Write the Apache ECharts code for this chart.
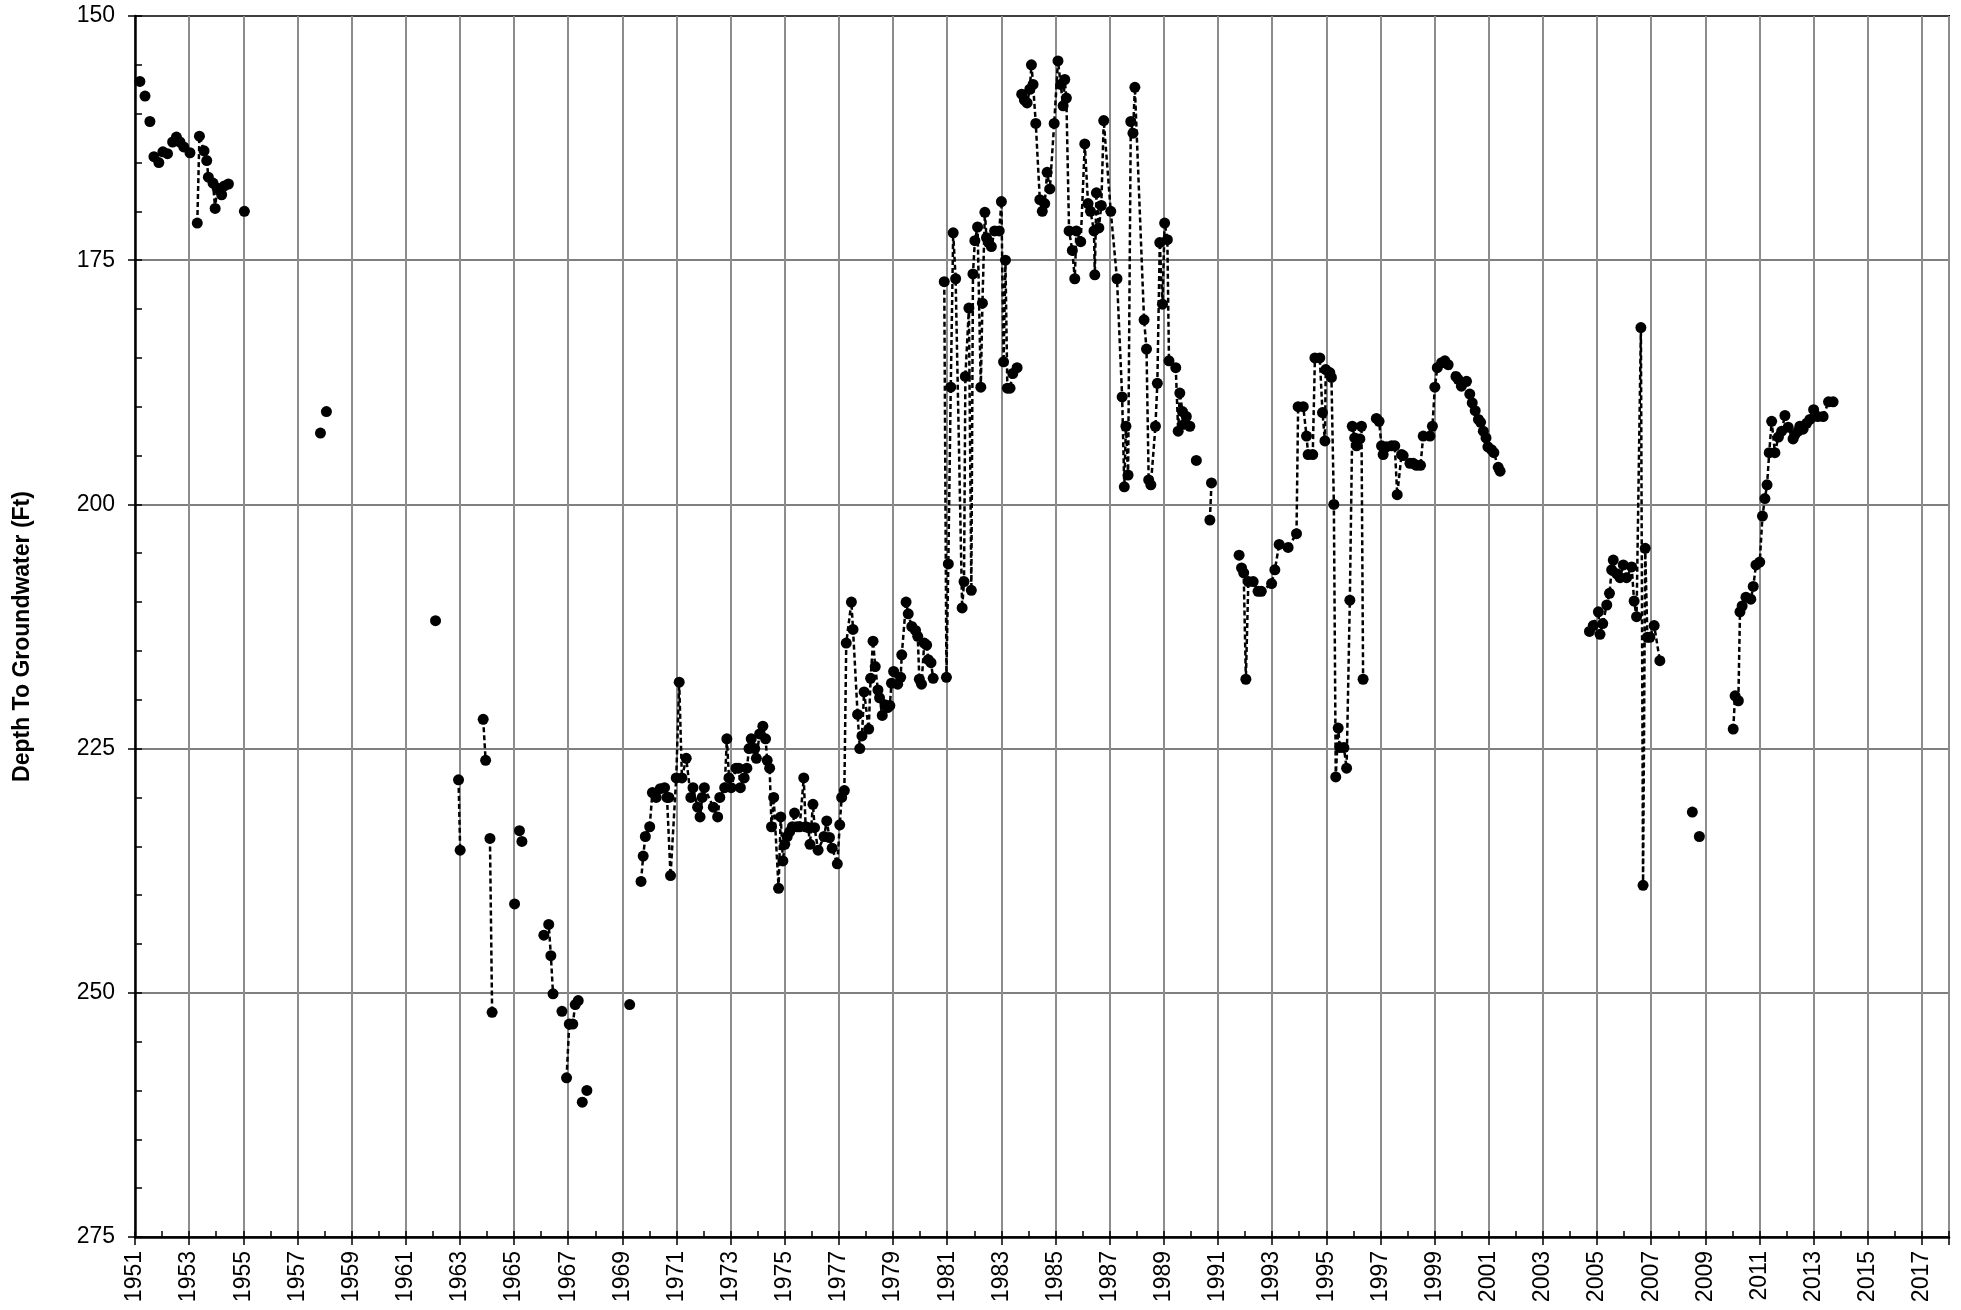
<!DOCTYPE html>
<html>
<head>
<meta charset="utf-8">
<title>Depth To Groundwater</title>
<script src="https://cdn.jsdelivr.net/npm/echarts@6/dist/echarts.min.js"></script>
<style>
  html, body { margin: 0; padding: 0; background: #fff; }
  #main { width: 1961px; height: 1310px; }
</style>
</head>
<body>
<div id="main"></div>
<script>
// each run = measurements joined by one dashed line: [decimal year, depth ft]
const runs1950s = [
  [[1951.18, 156.7]], [[1951.37, 158.2]], [[1951.55, 160.8]], [[1951.70, 164.4]],
  [[1951.88, 165.0]], [[1952.03, 163.9]], [[1952.20, 164.1]], [[1952.39, 162.9]],
  [[1952.53, 162.4]], [[1952.66, 162.9]], [[1952.80, 163.4]], [[1953.03, 164.0]],
  [[1953.30, 171.2], [1953.38, 162.3], [1953.55, 163.8], [1953.65, 164.8], [1953.71, 166.5],
   [1953.88, 167.1], [1953.96, 169.7], [1954.03, 167.6], [1954.20, 168.3], [1954.30, 167.4],
   [1954.45, 167.2]],
  [[1955.04, 170.0]],
  [[1957.85, 192.7]], [[1958.07, 190.5]]
];

const runs1960s = [
  [[1962.10, 211.9]],
  [[1962.95, 228.2], [1963.01, 235.4]],
  [[1963.86, 222.0], [1963.95, 226.2]],
  [[1964.11, 234.2], [1964.19, 252.0]],
  [[1965.02, 240.9]],
  [[1965.20, 233.4], [1965.29, 234.5]],
  [[1966.10, 244.1], [1966.28, 243.0], [1966.36, 246.2], [1966.44, 250.1]],
  [[1966.77, 251.9]],
  [[1966.94, 258.7], [1967.04, 253.2], [1967.17, 253.2], [1967.26, 251.2], [1967.37, 250.8]],
  [[1967.52, 261.2], [1967.69, 260.0]],
  [[1969.27, 251.2]]
];

const runs1970s = [
  [[1969.69, 238.6], [1969.77, 236.0], [1969.85, 234.0], [1970.01, 233.0], [1970.11, 229.5],
   [1970.25, 230.0], [1970.40, 229.1], [1970.56, 229.0], [1970.65, 230.0], [1970.72, 230.0],
   [1970.78, 238.0], [1970.99, 228.0], [1971.10, 218.2], [1971.20, 228.0], [1971.36, 226.0],
   [1971.53, 230.0], [1971.61, 229.0], [1971.78, 231.0], [1971.87, 232.0], [1971.95, 230.0],
   [1972.03, 229.0], [1972.36, 231.0], [1972.52, 232.0], [1972.60, 230.0], [1972.78, 229.0],
   [1972.86, 224.0], [1972.94, 228.0], [1973.02, 229.0], [1973.20, 227.0], [1973.30, 227.0],
   [1973.36, 229.0], [1973.50, 228.0], [1973.60, 227.0], [1973.68, 225.0], [1973.76, 224.0],
   [1973.89, 225.0], [1973.95, 226.0], [1974.07, 223.5], [1974.19, 222.7], [1974.29, 224.0],
   [1974.35, 226.2], [1974.44, 227.0], [1974.51, 233.0], [1974.59, 230.0], [1974.77, 239.3],
   [1974.85, 232.0], [1974.93, 236.5], [1975.00, 234.8], [1975.09, 234.0], [1975.18, 233.5],
   [1975.28, 233.0], [1975.36, 231.6], [1975.45, 233.0], [1975.55, 233.0], [1975.70, 228.0],
   [1975.77, 233.0], [1975.87, 233.1], [1975.93, 234.8], [1976.04, 230.7], [1976.10, 233.1],
   [1976.23, 235.4], [1976.45, 234.0], [1976.55, 232.4], [1976.65, 234.1], [1976.75, 235.2],
   [1976.94, 236.8], [1977.03, 232.8], [1977.10, 230.0], [1977.20, 229.3], [1977.27, 214.2],
   [1977.46, 210.0], [1977.52, 212.8], [1977.69, 221.5], [1977.77, 225.0], [1977.85, 223.7],
   [1977.93, 219.2], [1978.10, 223.0], [1978.17, 217.8], [1978.26, 214.0], [1978.34, 216.6],
   [1978.44, 219.0], [1978.50, 219.8], [1978.60, 221.6], [1978.70, 220.5], [1978.80, 220.8],
   [1978.88, 220.6], [1978.94, 218.3], [1979.02, 217.1], [1979.17, 218.4], [1979.28, 217.7],
   [1979.32, 215.4], [1979.48, 210.0], [1979.56, 211.2], [1979.69, 212.5], [1979.83, 212.9],
   [1979.91, 213.5], [1979.97, 217.9], [1980.05, 218.4], [1980.15, 214.2], [1980.24, 214.4],
   [1980.30, 215.9], [1980.40, 216.2], [1980.48, 217.8]]
];

const runs1980s = [
  [[1980.89, 177.2], [1980.97, 217.7], [1981.04, 206.1], [1981.13, 188.0], [1981.22, 172.2],
   [1981.31, 176.9], [1981.55, 210.6], [1981.62, 207.9], [1981.67, 186.9], [1981.80, 179.9],
   [1981.89, 208.8], [1981.95, 176.4], [1982.02, 173.0], [1982.12, 171.6], [1982.24, 188.0],
   [1982.30, 179.4], [1982.39, 170.1], [1982.45, 172.7], [1982.53, 173.2], [1982.63, 173.6],
   [1982.75, 172.0], [1982.92, 172.0], [1983.00, 169.0], [1983.08, 185.4], [1983.15, 175.0],
   [1983.22, 188.1], [1983.32, 188.1], [1983.42, 186.6], [1983.58, 186.0]],
  [[1983.75, 158.0], [1983.85, 158.6], [1983.95, 158.9], [1984.05, 157.5], [1984.11, 155.0],
   [1984.17, 157.0], [1984.27, 161.0], [1984.42, 168.8], [1984.51, 170.0], [1984.60, 169.2],
   [1984.69, 166.0], [1984.79, 167.7], [1984.95, 161.0], [1985.09, 154.6], [1985.19, 157.0],
   [1985.28, 159.2], [1985.34, 156.5], [1985.40, 158.4], [1985.50, 172.0], [1985.62, 174.0],
   [1985.71, 176.9], [1985.77, 172.0], [1985.93, 173.1], [1986.08, 163.1], [1986.20, 169.2],
   [1986.29, 170.0], [1986.42, 172.0], [1986.45, 176.5], [1986.51, 168.1], [1986.60, 171.7],
   [1986.69, 169.4], [1986.78, 160.7], [1987.04, 170.0], [1987.27, 176.9], [1987.46, 189.0],
   [1987.54, 198.2], [1987.60, 192.0], [1987.68, 197.0], [1987.78, 160.8], [1987.86, 162.0],
   [1987.93, 157.3], [1988.27, 181.1], [1988.36, 184.1], [1988.44, 197.5], [1988.52, 198.0],
   [1988.69, 192.0], [1988.76, 187.6], [1988.85, 173.2], [1988.95, 179.5], [1989.03, 171.2],
   [1989.13, 172.9], [1989.19, 185.3], [1989.44, 186.0], [1989.53, 192.5], [1989.59, 188.6],
   [1989.69, 190.5], [1989.75, 191.8], [1989.83, 191.0], [1989.96, 192.0]]
];

const runs1990s = [
  [[1990.20, 195.5]],
  [[1990.70, 201.6], [1990.76, 197.8]],
  [[1991.78, 205.2], [1991.87, 206.5], [1991.95, 207.0], [1992.03, 217.9], [1992.12, 207.9],
   [1992.30, 207.9], [1992.48, 208.9], [1992.60, 208.9], [1992.98, 208.1], [1993.10, 206.7],
   [1993.26, 204.1], [1993.59, 204.4], [1993.90, 203.0], [1993.96, 190.0], [1994.15, 190.0],
   [1994.27, 193.0], [1994.33, 194.9], [1994.50, 194.9], [1994.58, 185.0], [1994.76, 185.0],
   [1994.86, 190.6], [1994.95, 193.5], [1994.98, 186.2], [1995.13, 186.5], [1995.19, 187.0],
   [1995.28, 200.0], [1995.35, 227.9], [1995.44, 222.9], [1995.50, 224.9], [1995.65, 224.9],
   [1995.75, 227.0], [1995.87, 209.8], [1995.96, 192.0], [1996.05, 193.2], [1996.12, 194.0],
   [1996.24, 193.3], [1996.30, 192.0], [1996.36, 217.9]],
  [[1996.85, 191.2], [1996.95, 191.5], [1997.04, 194.0], [1997.10, 194.9], [1997.22, 194.1],
   [1997.41, 194.0], [1997.53, 194.0], [1997.62, 199.0], [1997.78, 194.9], [1997.84, 195.0],
   [1998.09, 195.8], [1998.21, 195.8], [1998.33, 196.0], [1998.48, 196.0], [1998.58, 193.0],
   [1998.83, 193.0], [1998.92, 192.0], [1999.01, 188.0], [1999.10, 186.0], [1999.26, 185.5],
   [1999.38, 185.3], [1999.50, 185.7], [1999.79, 186.9], [1999.87, 187.2], [1999.99, 187.9],
   [2000.18, 187.4], [2000.30, 188.7], [2000.39, 189.6], [2000.50, 190.4], [2000.62, 191.3],
   [2000.70, 191.6], [2000.80, 192.5], [2000.90, 193.2], [2000.97, 194.1], [2001.10, 194.4],
   [2001.19, 194.7], [2001.35, 196.2], [2001.42, 196.6]]
];

const runs2000s = [
  [[2004.72, 213.0], [2004.86, 212.4], [2005.05, 211.0], [2005.11, 213.3], [2005.21, 212.2],
   [2005.36, 210.3], [2005.46, 209.1], [2005.54, 206.7], [2005.60, 205.7], [2005.73, 207.1],
   [2005.85, 207.5], [2005.97, 206.2], [2006.09, 207.5], [2006.28, 206.4], [2006.37, 209.9],
   [2006.46, 211.5], [2006.62, 181.9], [2006.70, 239.0], [2006.78, 204.5], [2006.86, 213.6],
   [2006.95, 213.6], [2007.11, 212.4], [2007.32, 216.0]],
  [[2008.52, 231.5]],
  [[2008.78, 234.0]]
];

const runs2010s = [
  [[2010.03, 223.0], [2010.10, 219.6], [2010.22, 220.1], [2010.28, 211.0], [2010.36, 210.4],
   [2010.50, 209.5], [2010.68, 209.7], [2010.77, 208.4], [2010.87, 206.2], [2011.01, 205.9],
   [2011.11, 201.2], [2011.20, 199.4], [2011.28, 198.0], [2011.36, 194.7], [2011.45, 191.5],
   [2011.57, 194.7], [2011.70, 193.1], [2011.82, 192.5], [2011.94, 190.9], [2012.06, 192.1],
   [2012.24, 193.3], [2012.30, 192.9], [2012.43, 192.5], [2012.49, 192.0], [2012.61, 192.3],
   [2012.74, 191.7], [2012.86, 191.3], [2013.00, 190.3], [2013.15, 191.0], [2013.35, 191.0],
   [2013.55, 189.5], [2013.72, 189.5]]
];

const xStart = 1951;   // first tick label
const xEnd = 2018;     // right edge of plot
const yMin = 150;
const yMax = 275;

const font = 'Arial, "Liberation Sans", sans-serif';

// flatten runs, a null point breaks the dashed line between runs
function buildData() {
  const all = [].concat(runs1950s, runs1960s, runs1970s, runs1980s, runs1990s, runs2000s, runs2010s);
  const out = [];
  all.forEach((run, i) => {
    if (i > 0) out.push([run[0][0] - xStart, null]);
    run.forEach(p => out.push([p[0] - xStart, p[1]]));
  });
  return out;
}

const myChart = echarts.init(document.getElementById('main'));
const option = {
  animation: false,
  backgroundColor: '#fff',
  grid: {
    left: 135, right: 12, top: 16, bottom: 73,
    show: true, borderColor: '#000', borderWidth: 2,
    containLabel: false, outerBoundsMode: 'none'
  },
  xAxis: [
    {
      type: 'value', min: 0, max: xEnd - xStart, interval: 2, position: 'bottom',
      axisLine: { show: true, onZero: false, lineStyle: { color: '#000', width: 2.5 } },
      axisTick: { show: true, inside: false, length: 8, lineStyle: { color: '#000', width: 1.5 } },
      axisLabel: {
        rotate: 90, margin: 14, fontSize: 23, color: '#000', fontFamily: font,
        formatter: v => (v % 2 === 0 && v < xEnd - xStart) ? String(v + xStart) : ''
      },
      splitLine: { show: true, lineStyle: { color: '#8c8c8c', width: 2 } }
    },
    {
      // minor ticks every year, drawn inside
      type: 'value', min: 0, max: xEnd - xStart, interval: 1, position: 'bottom',
      axisLine: { show: false },
      axisTick: { show: true, inside: true, length: 6, lineStyle: { color: '#000', width: 1.5 } },
      axisLabel: { show: false },
      splitLine: { show: false }
    }
  ],
  yAxis: [
    {
      type: 'value', inverse: true, min: yMin, max: yMax, interval: 25, position: 'left',
      name: 'Depth To Groundwater (Ft)', nameLocation: 'middle', nameGap: 101,
      nameTextStyle: {
        fontSize: 23, fontWeight: 'bold', color: '#000', fontFamily: font,
        padding: [0, 20, 0, 0]
      },
      axisLine: { show: true, onZero: false, lineStyle: { color: '#000', width: 2.5 } },
      axisTick: { show: true, inside: false, length: 7, lineStyle: { color: '#000', width: 1.5 } },
      axisLabel: { fontSize: 23, margin: 20, color: '#000', fontFamily: font },
      splitLine: { show: true, lineStyle: { color: '#555', width: 1.5 } }
    },
    {
      // minor ticks every 5 ft
      type: 'value', inverse: true, min: yMin, max: yMax, interval: 5, position: 'left',
      axisLine: { show: false },
      axisTick: { show: true, inside: true, length: 7, lineStyle: { color: '#000', width: 1.5 } },
      axisLabel: { show: false },
      splitLine: { show: false }
    }
  ],
  series: [
    {
      name: 'Depth',
      type: 'line',
      xAxisIndex: 0,
      yAxisIndex: 0,
      data: buildData(),
      connectNulls: false,
      symbol: 'circle',
      symbolSize: 11,
      showAllSymbol: true,
      itemStyle: { color: '#000' },
      lineStyle: { color: '#000', width: 2.5, type: [5, 3] },
      z: 3
    }
  ]
};
myChart.setOption(option);
</script>
</body>
</html>
